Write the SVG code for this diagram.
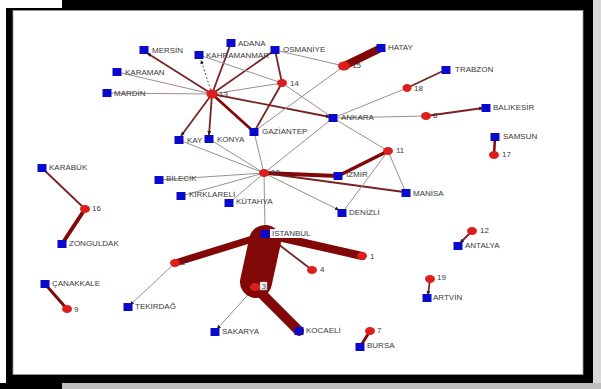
<svg xmlns="http://www.w3.org/2000/svg" width="601" height="389" viewBox="0 0 601 389">
<defs>
<style>
.lbl{font-family:"Liberation Sans",Arial,sans-serif;font-size:8px;fill:#3a3a3a}
.city{fill:#0a0acc}
.ev{fill:#dc1e1e}
.thin{stroke:#a08c8c;stroke-width:1;fill:none}
.med{stroke:#7a2222;stroke-width:1.8;fill:none}
.thick{stroke:#820808;fill:none;stroke-linecap:round}
</style>
<marker id="ar" viewBox="0 0 6 6" refX="6" refY="3" markerWidth="4" markerHeight="4" orient="auto" markerUnits="userSpaceOnUse">
<path d="M0,0 L6,3 L0,6 z" fill="#222"/>
</marker>
</defs>
<rect x="0" y="0" width="601" height="389" fill="#fff"/>
<g id="frame">
<rect x="593" y="0" width="8" height="389" fill="#d8d8d8"/>
<rect x="62" y="383" width="539" height="6" fill="#bdbdbd"/>
<rect x="0" y="383" width="62" height="6" fill="#000"/>
<rect x="6" y="8" width="587" height="375" fill="#000"/>
<rect x="62" y="0" width="531" height="10" fill="#000"/>
<rect x="13" y="10.5" width="570" height="364" fill="#fff" stroke="#999" stroke-width="0.8"/>
</g>
<g id="connectors">
<line class="thin" x1="212" y1="94" x2="117" y2="72"/>
<line class="thin" x1="212" y1="94" x2="107" y2="93"/>
<line class="med" x1="212" y1="94" x2="147" y2="53" marker-end="url(#ar)"/>
<line x1="212" y1="94" x2="201" y2="60" stroke="#6a4a4a" stroke-width="1" stroke-dasharray="2,2" marker-end="url(#ar)"/>
<line class="med" x1="212" y1="94" x2="231" y2="43"/>
<line class="med" x1="212" y1="94" x2="275" y2="50"/>
<line class="thin" x1="212" y1="94" x2="282" y2="83"/>
<line class="med" x1="212" y1="94" x2="330" y2="117" marker-end="url(#ar)"/>
<line class="thick" x1="212" y1="94" x2="254" y2="132" stroke-width="2.8"/>
<line class="med" x1="212" y1="94" x2="181" y2="136" marker-end="url(#ar)"/>
<line class="med" x1="212" y1="94" x2="209" y2="135" marker-end="url(#ar)"/>
<line class="thin" x1="199" y1="55" x2="282" y2="83"/>
<line class="med" x1="282" y1="83" x2="275" y2="50"/>
<line class="med" x1="282" y1="83" x2="254" y2="132"/>
<line class="thin" x1="282" y1="83" x2="333" y2="118"/>
<line class="thin" x1="275" y1="50" x2="344" y2="66"/>
<line class="thin" x1="344" y1="66" x2="256" y2="130"/>
<line class="thick" x1="344" y1="66" x2="381" y2="48" stroke-width="8"/>
<line class="thin" x1="333" y1="118" x2="407" y2="88"/>
<line class="med" x1="407" y1="88" x2="445" y2="70" stroke-width="1.2"/>
<line class="thin" x1="333" y1="118" x2="426" y2="116"/>
<line class="med" x1="426" y1="116" x2="483" y2="108" marker-end="url(#ar)"/>
<line class="thin" x1="264" y1="173" x2="179" y2="140"/>
<line class="thin" x1="264" y1="173" x2="209" y2="139"/>
<line class="thin" x1="264" y1="173" x2="254" y2="132"/>
<line class="thin" x1="264" y1="173" x2="159" y2="180"/>
<line class="thin" x1="264" y1="173" x2="181" y2="196"/>
<line class="thin" x1="264" y1="173" x2="229" y2="203"/>
<line class="thin" x1="264" y1="173" x2="339" y2="210" marker-end="url(#ar)"/>
<line class="med" x1="264" y1="173" x2="404" y2="192" stroke-width="1.3"/>
<line class="thin" x1="264" y1="173" x2="333" y2="118"/>
<line class="thin" x1="264" y1="173" x2="265" y2="230"/>
<line class="thick" x1="264" y1="173" x2="338" y2="176" stroke-width="4"/>
<line class="thick" x1="388" y1="151" x2="338" y2="176" stroke-width="3.5"/>
<line class="thin" x1="388" y1="151" x2="333" y2="118"/>
<line class="thin" x1="388" y1="151" x2="406" y2="193"/>
<line class="thin" x1="388" y1="151" x2="342" y2="213"/>
<line class="thick" x1="494" y1="155" x2="495" y2="137" stroke-width="2.5"/>
<line class="med" x1="472" y1="231" x2="460" y2="243" stroke-width="1.2" marker-end="url(#ar)"/>
<line class="med" x1="430" y1="279" x2="428" y2="295" stroke-width="1.2" marker-end="url(#ar)"/>
<line class="thick" x1="370" y1="331" x2="360" y2="347" stroke-width="3"/>
<line class="thick" x1="67" y1="309" x2="45" y2="284" stroke-width="3"/>
<line class="med" x1="85" y1="209" x2="42" y2="168"/>
<line class="thick" x1="85" y1="209" x2="62" y2="244" stroke-width="4"/>
<line class="thin" x1="175" y1="263" x2="130" y2="305" marker-end="url(#ar)"/>
<line class="thick" x1="175" y1="263" x2="262" y2="236" stroke-width="7"/>
<line class="thick" x1="265" y1="234" x2="362" y2="256" stroke-width="8"/>
<line class="med" x1="265" y1="234" x2="312" y2="270" stroke-width="2" stroke="#6a5555"/>
<line class="thin" x1="255" y1="287" x2="217" y2="329" marker-end="url(#ar)"/>
<line class="thick" x1="255" y1="287" x2="299" y2="331" stroke-width="10" stroke-linecap="butt"/>
<line class="thick" x1="265" y1="241" x2="256" y2="282" stroke-width="32"/>
</g>
<g id="n-mersin"><rect class="city" x="139.5" y="46" width="9" height="8"/><text class="lbl" x="152" y="53">MERSİN</text></g>
<g id="n-kahramanmaras"><rect class="city" x="194.5" y="51" width="9" height="8"/><text class="lbl" x="206" y="58">KAHRAMANMAR</text></g>
<g id="n-adana"><rect class="city" x="226.5" y="39" width="9" height="8"/><text class="lbl" x="238" y="46">ADANA</text></g>
<g id="n-osmaniye"><rect class="city" x="270.5" y="46" width="9" height="8"/><text class="lbl" x="283" y="52">OSMANİYE</text></g>
<g id="n-hatay"><rect class="city" x="376.5" y="44" width="9" height="8"/><text class="lbl" x="388" y="50">HATAY</text></g>
<g id="n-karaman"><rect class="city" x="112.5" y="68" width="9" height="8"/><text class="lbl" x="125" y="75">KARAMAN</text></g>
<g id="n-mardin"><rect class="city" x="102.5" y="89" width="9" height="8"/><text class="lbl" x="114" y="96">MARDİN</text></g>
<g id="n-trabzon"><rect class="city" x="441.5" y="66" width="9" height="8"/><text class="lbl" x="455" y="72">TRABZON</text></g>
<g id="n-balikesir"><rect class="city" x="481.5" y="104" width="9" height="8"/><text class="lbl" x="493" y="110">BALIKESİR</text></g>
<g id="n-ankara"><rect class="city" x="328.5" y="114" width="9" height="8"/><text class="lbl" x="341" y="120">ANKARA</text></g>
<g id="n-gaziantep"><rect class="city" x="249.5" y="128" width="9" height="8"/><text class="lbl" x="262" y="134">GAZİANTEP</text></g>
<g id="n-kayseri"><rect class="city" x="174.5" y="136" width="9" height="8"/><text class="lbl" x="187" y="143">KAY</text></g>
<g id="n-konya"><rect class="city" x="204.5" y="135" width="9" height="8"/><text class="lbl" x="217" y="142">KONYA</text></g>
<g id="n-samsun"><rect class="city" x="490.5" y="133" width="9" height="8"/><text class="lbl" x="503" y="139">SAMSUN</text></g>
<g id="n-izmir"><rect class="city" x="333.5" y="172" width="9" height="8"/><text class="lbl" x="346" y="177">İZMİR</text></g>
<g id="n-bilecik"><rect class="city" x="154.5" y="176" width="9" height="8"/><text class="lbl" x="166" y="181">BİLECİK</text></g>
<g id="n-manisa"><rect class="city" x="401.5" y="189" width="9" height="8"/><text class="lbl" x="413" y="196">MANİSA</text></g>
<g id="n-kirklareli"><rect class="city" x="176.5" y="192" width="9" height="8"/><text class="lbl" x="189" y="197">KIRKLARELİ</text></g>
<g id="n-kutahya"><rect class="city" x="224.5" y="199" width="9" height="8"/><text class="lbl" x="236" y="204">KÜTAHYA</text></g>
<g id="n-denizli"><rect class="city" x="337.5" y="209" width="9" height="8"/><text class="lbl" x="349" y="215">DENİZLİ</text></g>
<g id="n-karabuk"><rect class="city" x="37.5" y="164" width="9" height="8"/><text class="lbl" x="49" y="170">KARABÜK</text></g>
<g id="n-zonguldak"><rect class="city" x="57.5" y="240" width="9" height="8"/><text class="lbl" x="69" y="246">ZONGULDAK</text></g>
<g id="n-istanbul"><rect x="270" y="229" width="42" height="9" fill="#fff"/><rect class="city" x="260.5" y="230" width="9" height="8"/><text class="lbl" x="272" y="236">İSTANBUL</text></g>
<g id="n-antalya"><rect class="city" x="453.5" y="242" width="9" height="8"/><text class="lbl" x="465" y="248">ANTALYA</text></g>
<g id="n-canakkale"><rect class="city" x="40.5" y="280" width="9" height="8"/><text class="lbl" x="52" y="286">ÇANAKKALE</text></g>
<g id="n-tekirdag"><rect class="city" x="123.5" y="303" width="9" height="8"/><text class="lbl" x="135" y="309">TEKİRDAĞ</text></g>
<g id="n-artvin"><rect class="city" x="422.5" y="294" width="9" height="8"/><text class="lbl" x="433" y="300">ARTVİN</text></g>
<g id="n-sakarya"><rect class="city" x="210.5" y="328" width="9" height="8"/><text class="lbl" x="222" y="334">SAKARYA</text></g>
<g id="n-kocaeli"><rect class="city" x="294.5" y="327" width="9" height="8"/><text class="lbl" x="306" y="333">KOCAELİ</text></g>
<g id="n-bursa"><rect class="city" x="355.5" y="343" width="9" height="8"/><text class="lbl" x="367" y="348">BURSA</text></g>
<g id="n-13"><ellipse class="ev" cx="212" cy="94" rx="5.5" ry="4.5"/><text class="lbl" x="219" y="97">13</text></g>
<g id="n-14"><ellipse class="ev" cx="282" cy="83" rx="5" ry="4"/><text class="lbl" x="290" y="86">14</text></g>
<g id="n-15"><ellipse class="ev" cx="344" cy="66" rx="6" ry="4.5"/><text class="lbl" x="352" y="68">15</text></g>
<g id="n-18"><ellipse class="ev" cx="407" cy="88" rx="4.5" ry="4"/><text class="lbl" x="414" y="91">18</text></g>
<g id="n-8"><ellipse class="ev" cx="426" cy="116" rx="5" ry="4"/><text class="lbl" x="433" y="118">8</text></g>
<g id="n-11"><ellipse class="ev" cx="388" cy="151" rx="5" ry="4"/><text class="lbl" x="396" y="153">11</text></g>
<g id="n-17"><ellipse class="ev" cx="494" cy="155" rx="5" ry="4"/><text class="lbl" x="502" y="157">17</text></g>
<g id="n-10"><ellipse class="ev" cx="264" cy="173" rx="5" ry="4"/><text class="lbl" x="271" y="175">10</text></g>
<g id="n-16"><ellipse class="ev" cx="85" cy="209" rx="5" ry="4"/><text class="lbl" x="92" y="211">16</text></g>
<g id="n-12"><ellipse class="ev" cx="472" cy="231" rx="5" ry="4"/><text class="lbl" x="480" y="233">12</text></g>
<g id="n-2"><ellipse class="ev" cx="175" cy="263" rx="5" ry="4"/><text class="lbl" x="181" y="265">2</text></g>
<g id="n-1"><ellipse class="ev" cx="362" cy="256" rx="5" ry="4"/><text class="lbl" x="370" y="259">1</text></g>
<g id="n-4"><ellipse class="ev" cx="312" cy="270" rx="5" ry="4"/><text class="lbl" x="320" y="272">4</text></g>
<g id="n-3"><ellipse class="ev" cx="255" cy="287" rx="5" ry="4"/><rect x="260" y="282" width="7" height="8" fill="#fff" stroke="#888" stroke-width="0.6"/><text class="lbl" x="261.5" y="289">3</text></g>
<g id="n-9"><ellipse class="ev" cx="67" cy="309" rx="5" ry="4"/><text class="lbl" x="74" y="312">9</text></g>
<g id="n-19"><ellipse class="ev" cx="430" cy="279" rx="5" ry="4"/><text class="lbl" x="437" y="280">19</text></g>
<g id="n-7"><ellipse class="ev" cx="370" cy="331" rx="5" ry="4"/><text class="lbl" x="377" y="333">7</text></g>
</svg>
